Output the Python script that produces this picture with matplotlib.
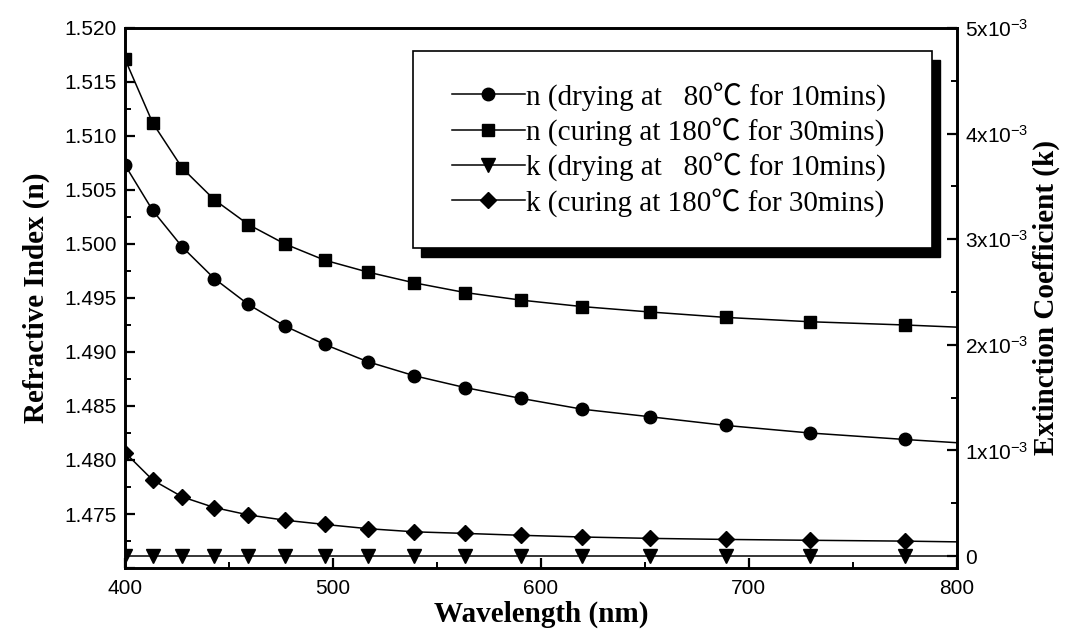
import matplotlib
matplotlib.use("Agg")
import matplotlib.pyplot as plt
from matplotlib.patches import Rectangle
from matplotlib.ticker import MultipleLocator, FuncFormatter

# marker wavelengths (nm)
wavelength = [400.0, 413.3, 427.6, 442.9, 459.3, 476.9, 496.0, 516.7,
              539.1, 563.6, 590.5, 620.0, 652.6, 688.9, 729.4, 775.0]
wl_end = 800.0

# refractive index
n_dry = [1.5073, 1.5031, 1.4997, 1.4968, 1.4944, 1.4924, 1.4907, 1.4891,
         1.4878, 1.4867, 1.4857, 1.4847, 1.4840, 1.4832, 1.4825, 1.4819]
n_dry_end = 1.4816
n_cure = [1.5171, 1.5112, 1.5070, 1.5041, 1.5018, 1.5000, 1.4985, 1.4974,
          1.4964, 1.4955, 1.4948, 1.4942, 1.4937, 1.4932, 1.4928, 1.4925]
n_cure_end = 1.4923

# extinction coefficient (x1e-3)
k_dry = [0.0, 0.0, 0.0, 0.0, 0.0, 0.0, 0.0, 0.0,
         0.0, 0.0, 0.0, 0.0, 0.0, 0.0, 0.0, 0.0]
k_dry_end = 0.0
k_cure = [0.98, 0.72, 0.56, 0.46, 0.39, 0.34, 0.30, 0.26,
          0.23, 0.215, 0.197, 0.181, 0.168, 0.158, 0.150, 0.142]
k_cure_end = 0.135

labels = ['n (drying at   80\u2103 for 10mins)',
          'n (curing at 180\u2103 for 30mins)',
          'k (drying at   80\u2103 for 10mins)',
          'k (curing at 180\u2103 for 30mins)']

plt.rcParams['mathtext.default'] = 'regular'
tick_font = 'Liberation Sans'
serif = ['Liberation Serif', 'Noto Sans CJK SC', 'DejaVu Serif']

fig = plt.figure(figsize=(10.69, 6.35), dpi=100)
ax = fig.add_axes([0.117, 0.1055, 0.778, 0.8505])
ax2 = ax.twinx()

x_line = wavelength + [wl_end]
marks = list(range(len(wavelength)))
lw = 1.1

h1, = ax.plot(x_line, n_dry + [n_dry_end], color='black', lw=lw,
              marker='o', markersize=9, markevery=marks)
h2, = ax.plot(x_line, n_cure + [n_cure_end], color='black', lw=lw,
              marker='s', markersize=8.5, markevery=marks)
k1 = [v * 1e-3 for v in k_dry + [k_dry_end]]
k2 = [v * 1e-3 for v in k_cure + [k_cure_end]]
h3, = ax2.plot(x_line, k1, color='black', lw=lw,
               marker='v', markersize=9.5, markevery=marks)
h4, = ax2.plot(x_line, k2, color='black', lw=lw,
               marker='D', markersize=8, markevery=marks)

ax.set_xlim(400, 800)
ax.set_ylim(1.470, 1.520)
ax2.set_ylim(-0.1125e-3, 5e-3)

ax.xaxis.set_major_locator(MultipleLocator(100))
ax.xaxis.set_minor_locator(MultipleLocator(50))
ax.yaxis.set_major_locator(MultipleLocator(0.005))
ax.yaxis.set_minor_locator(MultipleLocator(0.0025))
# the bottom value 1.470 carries no label
ax.yaxis.set_major_formatter(
    FuncFormatter(lambda v, p: '' if v < 1.4725 else f'{v:.3f}'))
ax2.yaxis.set_major_locator(MultipleLocator(1e-3))
ax2.yaxis.set_minor_locator(MultipleLocator(0.5e-3))


def k_fmt(v, pos):
    m = int(round(v * 1e3))
    if m == 0:
        return '0'
    return f'{m}x10$^{{-3}}$'


ax2.yaxis.set_major_formatter(FuncFormatter(k_fmt))

for a in (ax, ax2):
    for s in a.spines.values():
        s.set_linewidth(1.9)
    a.tick_params(which='major', direction='in', length=7.5, width=1.6,
                  labelsize=15)
    a.tick_params(which='minor', direction='in', length=4, width=1.4)
ax.tick_params(axis='x', which='both', top=False, pad=8)
ax.tick_params(axis='y', which='both', right=False, pad=6)
ax2.tick_params(axis='y', which='both', left=False, pad=6)
for t in ax.get_xticklabels() + ax.get_yticklabels() + ax2.get_yticklabels():
    t.set_fontfamily(tick_font)

ax.set_xlabel('Wavelength (nm)', fontsize=21, fontweight='bold',
              family='Liberation Serif', labelpad=2)
ax.set_ylabel('Refractive Index (n)', fontsize=21, fontweight='bold',
              family='Liberation Serif', labelpad=10)
ax2.set_ylabel('Extinction Coefficient (k)', fontsize=21, fontweight='bold',
               family='Liberation Serif', labelpad=3)

# legend frame with offset black shadow
fx, fy, fw, fh = 0.346, 0.5926, 0.624, 0.365
ax2.add_patch(Rectangle((fx + 0.0096, fy - 0.0167), fw, fh,
                        transform=ax2.transAxes, facecolor='black',
                        edgecolor='black', zorder=10, clip_on=False))
ax2.add_patch(Rectangle((fx, fy), fw, fh, transform=ax2.transAxes,
                        facecolor='white', edgecolor='black', lw=1.2,
                        zorder=11, clip_on=False))
leg = ax2.legend([h1, h2, h3, h4], labels, loc='center',
                 bbox_to_anchor=(fx + fw / 2 - 0.004, fy + fh / 2),
                 frameon=False, prop={'family': serif, 'size': 21},
                 handlelength=2.5, handletextpad=0.05, labelspacing=0.22)
leg.set_zorder(12)

fig.savefig('out.png', dpi=100)
